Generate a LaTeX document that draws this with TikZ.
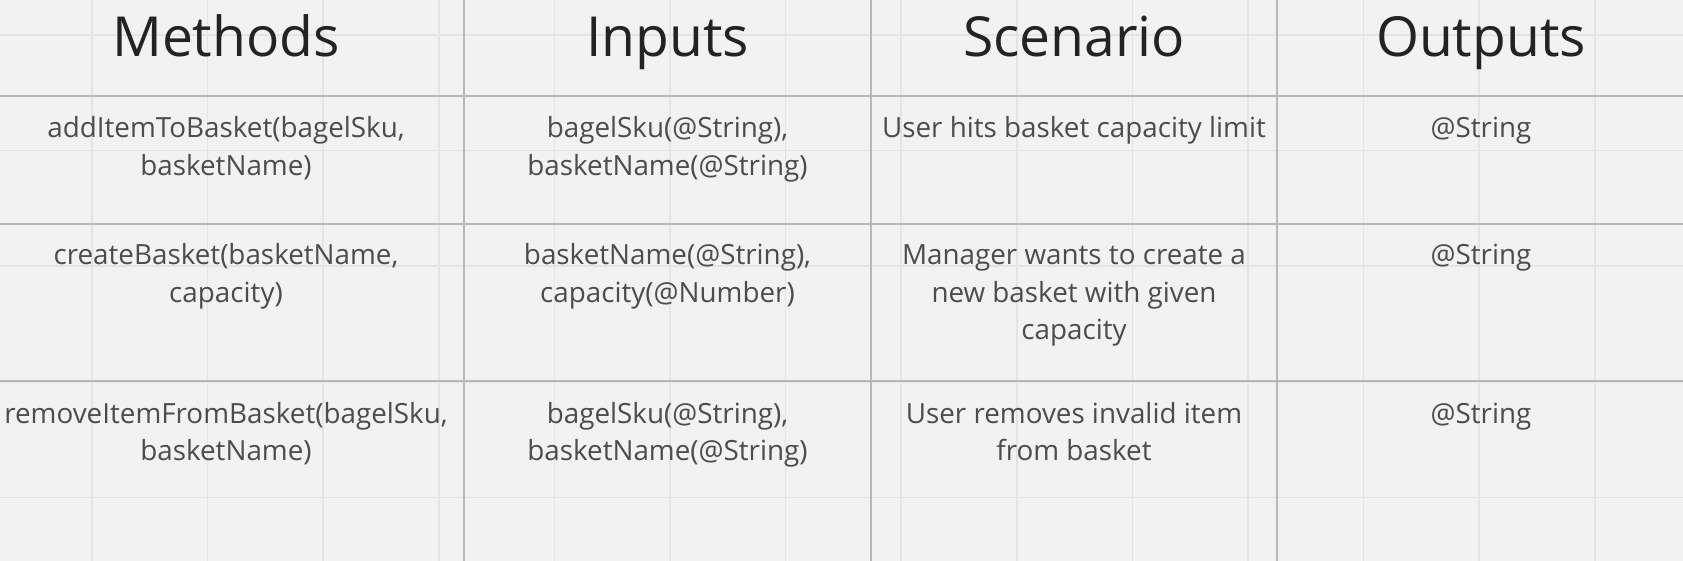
\documentclass[tikz,border=0pt]{standalone}
\usepackage{fontspec}
\setmainfont{Open Sans}
\definecolor{bgcol}{HTML}{F2F2F2}
\definecolor{gridcol}{HTML}{E4E4E4}
\definecolor{rulecol}{HTML}{B8B8B8}
\definecolor{headcol}{HTML}{232323}
\definecolor{bodycol}{HTML}{4C4C4C}
\newcommand\tcell[1]{\begin{tabular}[t]{@{}c@{}}#1\end{tabular}}
\begin{document}
\begin{tikzpicture}[x=0.5pt,y=-0.5pt,
  faint/.style={draw=gridcol,line width=0.75pt},
  rule/.style={draw=rulecol,line width=1pt},
  head/.style={anchor=base,inner sep=0pt,text=headcol,font=\fontsize{27.6pt}{38pt}\selectfont},
  body/.style={anchor=base,inner sep=0pt,text=bodycol,font=\fontsize{13.9pt}{18.6pt}\selectfont}]
\fill[bgcol] (0,0) rectangle (1683,561);
\useasboundingbox (0,0) rectangle (1683,561);
% faint background grid
\foreach \gx in {92,207.6,323.2,438.8,554.4,670,785.6,901.2,1016.8,1132.4,1248,1363.6,1479.2,1594.8}
  \draw[faint] (\gx,0) -- (\gx,561);
\foreach \gy in {35,150.6,266.2,381.8,497.4}
  \draw[faint] (0,\gy) -- (1683,\gy);
% table rules
\foreach \ry in {96,224,381}
  \draw[rule] (0,\ry) -- (1683,\ry);
\foreach \rx in {464,871,1277}
  \draw[rule] (\rx,0) -- (\rx,561);
% headers
\node[head] (hm) at (226,57) {Methods};
\node[head] (hi) at (667.5,57) {Inputs};
\node[head] (hs) at (1074,57) {Scenario};
\node[head] (ho) at (1481,57) {Outputs};
% row 1
\node[body] (m1) at (226,138) {\tcell{addItemToBasket(bagelSku,\\basketName)}};
\node[body] (i1) at (667.5,138) {\tcell{bagelSku(@String),\\basketName(@String)}};
\node[body] (s1) at (1074,138) {\tcell{User hits basket capacity limit}};
\node[body] (o1) at (1481,138) {\tcell{@String}};
% row 2
\node[body] (m2) at (226,265) {\tcell{createBasket(basketName,\\capacity)}};
\node[body] (i2) at (667.5,265) {\tcell{basketName(@String),\\capacity(@Number)}};
\node[body] (s2) at (1074,265) {\tcell{Manager wants to create a\\new basket with given\\capacity}};
\node[body] (o2) at (1481,265) {\tcell{@String}};
% row 3
\node[body] (m3) at (226,423) {\tcell{removeItemFromBasket(bagelSku,\\basketName)}};
\node[body] (i3) at (667.5,423) {\tcell{bagelSku(@String),\\basketName(@String)}};
\node[body] (s3) at (1074,423) {\tcell{User removes invalid item\\from basket}};
\node[body] (o3) at (1481,423) {\tcell{@String}};
\end{tikzpicture}
\end{document}
